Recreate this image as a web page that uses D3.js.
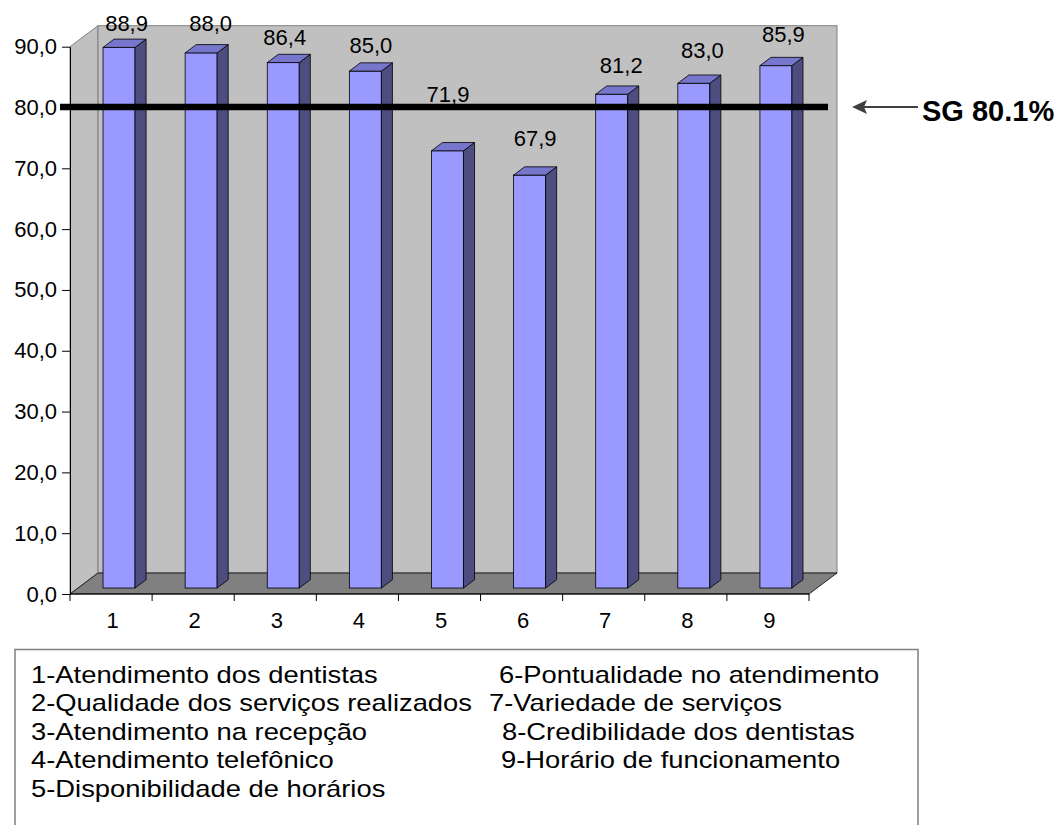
<!DOCTYPE html>
<html>
<head>
<meta charset="utf-8">
<script src="https://cdn.jsdelivr.net/npm/d3@7/dist/d3.min.js"></script>
<style>
  html, body { margin: 0; padding: 0; background: #ffffff; }
  svg { display: block; }
  text { font-family: "Liberation Sans", Arial, Helvetica, sans-serif; fill: #000; }
</style>
</head>
<body>
<svg id="chart" width="1060" height="825"></svg>
<script>
// Satisfaction scores per item (%)
const categories = ["1", "2", "3", "4", "5", "6", "7", "8", "9"];
const values = [88.9, 88.0, 86.4, 85.0, 71.9, 67.9, 81.2, 83.0, 85.9];
const yTicks = [0, 10, 20, 30, 40, 50, 60, 70, 80, 90];
const legendItems = [
  "1-Atendimento dos dentistas",
  "2-Qualidade dos serviços realizados",
  "3-Atendimento na recepção",
  "4-Atendimento telefônico",
  "5-Disponibilidade de horários",
  "6-Pontualidade no atendimento",
  "7-Variedade de serviços",
  "8-Credibilidade dos dentistas",
  "9-Horário de funcionamento"
];
const overallScore = 80.1;
const overallLabel = "SG 80.1%";

// ---- layout ----
const svg = d3.select("#chart");
const plotLeft = 70, plotRight = 809, plotBottom = 594;
const DX = 28, DY = -21;           // 3D depth of the plot box
const barFront = 0.285, barBack = 0.68; // bar position within the depth
const barWidth = 32;

const x = d3.scaleBand().domain(categories).range([plotLeft, plotRight]).padding(0);
const y = d3.scaleLinear().domain([0, 90]).range([plotBottom, 46.7]);
const yTop = y(90);

const fmt = v => d3.format(".1f")(v).replace(".", ",");

// side wall
svg.append("polygon")
  .attr("points", [[plotLeft, yTop], [plotLeft + DX, yTop + DY], [plotLeft + DX, plotBottom + DY], [plotLeft, plotBottom]].join(" "))
  .attr("fill", "#c0c0c0").attr("stroke", "#808080").attr("stroke-width", 1);

// back wall
svg.append("rect")
  .attr("x", plotLeft + DX).attr("y", yTop + DY)
  .attr("width", plotRight - plotLeft).attr("height", plotBottom - yTop)
  .attr("fill", "#c0c0c0").attr("stroke", "#808080").attr("stroke-width", 1);

// floor
svg.append("polygon")
  .attr("points", [[plotLeft, plotBottom], [plotRight, plotBottom], [plotRight + DX, plotBottom + DY], [plotLeft + DX, plotBottom + DY]].join(" "))
  .attr("fill", "#808080").attr("stroke", "#000").attr("stroke-width", 0.8);

// y axis
const yAxis = svg.append("g")
  .attr("transform", `translate(${plotLeft},0)`)
  .call(d3.axisLeft(y).tickValues(yTicks).tickSize(8).tickSizeOuter(0).tickPadding(5).tickFormat(fmt));
yAxis.selectAll("text").style("font-size", "22px");
yAxis.select(".domain").attr("stroke", "#000");

// x axis: labels centred in each band, ticks at band boundaries
const xAxis = svg.append("g")
  .attr("transform", `translate(1.5,${plotBottom})`)
  .call(d3.axisBottom(x).tickSize(0).tickPadding(18));
xAxis.select(".domain").remove();
xAxis.selectAll("text").style("font-size", "22px");

const bounds = categories.map(c => x(c)).concat([x.range()[1]]);
svg.append("line")
  .attr("x1", plotLeft).attr("x2", plotRight)
  .attr("y1", plotBottom).attr("y2", plotBottom)
  .attr("stroke", "#000").attr("stroke-width", 1);
svg.selectAll(".xtick").data(bounds).enter().append("line")
  .attr("class", "xtick")
  .attr("x1", d => d).attr("x2", d => d)
  .attr("y1", plotBottom).attr("y2", plotBottom + 7)
  .attr("stroke", "#000").attr("stroke-width", 1);

// 3D bars
const fdx = DX * barFront, fdy = DY * barFront;
const bdx = DX * (barBack - barFront), bdy = DY * (barBack - barFront);
const bars = svg.selectAll(".bar").data(values).enter().append("g").attr("class", "bar");
bars.each(function (v, i) {
  const g = d3.select(this);
  const x0 = x(categories[i]) + (x.bandwidth() - barWidth) / 2 + fdx;
  const x1 = x0 + barWidth;
  const yb = y(0) + fdy;
  const yt = y(v) + fdy;
  // front
  g.append("rect").attr("x", x0).attr("y", yt).attr("width", barWidth).attr("height", yb - yt)
    .attr("fill", "#9999ff").attr("stroke", "#000").attr("stroke-width", 0.8);
  // right side
  g.append("polygon")
    .attr("points", [[x1, yt], [x1 + bdx, yt + bdy], [x1 + bdx, yb + bdy], [x1, yb]].join(" "))
    .attr("fill", "#4d4d80").attr("stroke", "#000").attr("stroke-width", 0.8);
  // top
  g.append("polygon")
    .attr("points", [[x0, yt], [x0 + bdx, yt + bdy], [x1 + bdx, yt + bdy], [x1, yt]].join(" "))
    .attr("fill", "#7676cc").attr("stroke", "#000").attr("stroke-width", 0.8);
});

// overall score reference line
svg.append("line")
  .attr("x1", 60).attr("x2", 828)
  .attr("y1", y(overallScore)).attr("y2", y(overallScore))
  .attr("stroke", "#000").attr("stroke-width", 6.5);

// value labels (small per-label placement tweaks)
const labelShift = [[2, 2], [4, -3.5], [-4, 1], [0, 0.5], [-5, -30.5], [0, -10.5], [4, -3], [3, -6.5], [2, -5.5]];
svg.selectAll(".vlabel").data(values).enter().append("text")
  .attr("class", "vlabel")
  .attr("x", (v, i) => x(categories[i]) + x.bandwidth() / 2 + fdx + bdx / 2 + labelShift[i][0])
  .attr("y", (v, i) => y(v) + fdy + bdy - 10 + labelShift[i][1])
  .attr("text-anchor", "middle")
  .style("font-size", "22px")
  .text(v => fmt(v));

// arrow and overall label
const ya = y(overallScore);
svg.append("line")
  .attr("x1", 864).attr("x2", 918).attr("y1", ya).attr("y2", ya)
  .attr("stroke", "#404040").attr("stroke-width", 2);
svg.append("polygon")
  .attr("points", [[852, ya], [867, ya - 7], [864, ya], [867, ya + 7]].join(" "))
  .attr("fill", "#404040");
svg.append("text")
  .attr("x", 922).attr("y", ya + 14)
  .style("font-size", "29px").style("font-weight", "bold")
  .text(overallLabel);

// legend box
svg.append("rect")
  .attr("x", 15).attr("y", 649.5).attr("width", 903).attr("height", 200)
  .attr("fill", "none").attr("stroke", "#808080").attr("stroke-width", 1.5);

const rowY = i => 683 + i * 28.4;
const rightColX = [499, 489, 502, 501];
svg.selectAll(".legend").data(legendItems).enter().append("text")
  .attr("class", "legend")
  .attr("transform", (d, i) => {
    const left = i < 5;
    const row = left ? i : i - 5;
    const tx = left ? 31 : rightColX[row];
    return `translate(${tx},${rowY(row)}) scale(1.19,1)`;
  })
  .style("font-size", "23px")
  .text(d => d);
</script>
</body>
</html>
